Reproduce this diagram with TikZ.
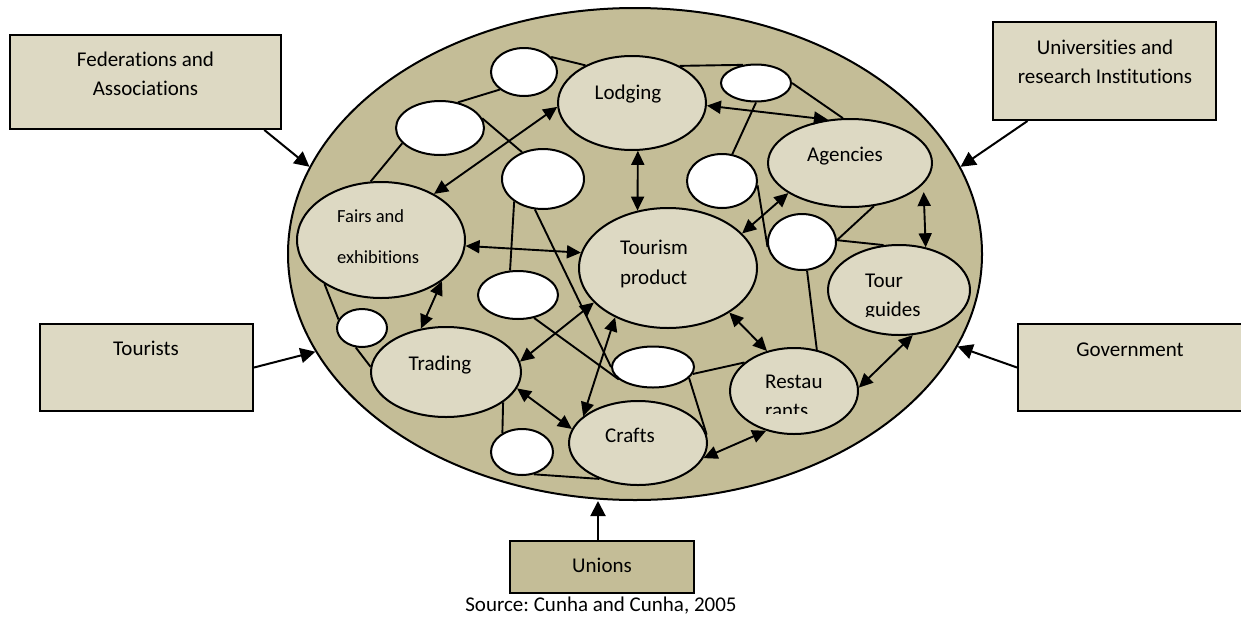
\documentclass[tikz,border=0pt]{standalone}
\usepackage{fontspec}
\setmainfont{Carlito}[RawFeature={-liga}]
\usetikzlibrary{arrows.meta,shapes.geometric}
\definecolor{tandark}{HTML}{C4BD97}
\definecolor{tanlight}{HTML}{DDD9C3}
\newcommand{\txtlines}[2][c]{\begin{tabular}[t]{@{}#1@{}}#2\end{tabular}}
\frenchspacing
\tikzset{dims/.style 2 args={minimum width=#1,minimum height=#2},
  actor/.style={draw,line width=2pt,fill=tanlight,inner sep=0pt},
  bubble/.style={ellipse,draw,line width=2pt,fill=tanlight,inner sep=0pt},
  blank/.style={ellipse,draw,line width=2pt,fill=white,inner sep=0pt},
  tag/.style={font=\fontsize{21}{29}\selectfont,inner sep=0pt},
  link/.style={line width=1.9pt},
  duo/.style={{Triangle[length=14pt,width=13pt]}-{Triangle[length=14pt,width=13pt]},line width=1.9pt},
  inarr/.style={-{Triangle[length=15pt,width=15pt]},line width=2pt}}
\begin{document}
\begin{tikzpicture}[x=1pt,y=-1pt]
\useasboundingbox (0,0) rectangle (1241,616);
% outside actors
\node[actor,dims={271pt}{94pt}] (fedn) at (145.5,82) {};
\node[actor,dims={223pt}{98pt}] (univ) at (1104.5,71) {};
\node[actor,dims={213pt}{87pt}] (tour) at (146.5,367.5) {};
\node[actor,dims={227pt}{87pt}] (govt) at (1131.5,367.5) {};
\node[actor,fill=tandark,dims={184pt}{52pt}] (unio) at (602,567) {};
% the tourism system
\node[ellipse,draw,line width=2pt,fill=tandark,inner sep=0pt,dims={694pt}{492pt}] (big) at (635,254) {};
\node[bubble,dims={148pt}{94pt}] (lodg) at (632,103) {};
\node[bubble,dims={164pt}{88pt}] (agen) at (850,163) {};
\node[bubble,dims={168pt}{116pt}] (fair) at (381,240) {};
\node[bubble,dims={178pt}{120pt}] (prod) at (668,268) {};
\node[bubble,dims={142pt}{90pt}] (guid) at (899,290) {};
\node[bubble,dims={150pt}{90pt}] (trad) at (446,372) {};
\node[bubble,dims={138pt}{84pt}] (craf) at (638,443) {};
\node[bubble,dims={128pt}{86pt}] (rest) at (794,391) {};
% empty ellipses
\node[blank,dims={66pt}{48pt}] (b1) at (524,72) {};
\node[blank,dims={88pt}{54pt}] (b2) at (440,128) {};
\node[blank,dims={82pt}{60pt}] (b3) at (543,179) {};
\node[blank,dims={70pt}{37pt}] (b4) at (756,83) {};
\node[blank,dims={70pt}{54pt}] (b5) at (722,181) {};
\node[blank,dims={68pt}{56pt}] (b6) at (802,242) {};
\node[blank,dims={50pt}{38pt}] (b7) at (362,328) {};
\node[blank,dims={80pt}{48pt}] (b8) at (518,295) {};
\node[blank,dims={82pt}{41pt}] (b9) at (653,367) {};
\node[blank,dims={62pt}{46pt}] (b10) at (522,452) {};
% plain links
\draw[link] (b1.29) -- (lodg.141);
\draw[link] (b2.55) -- (b1.216);
\draw[link] (b2.13) -- (b3.128);
\draw[link] (b2.202) -- (fair.100);
\draw[link] (b3.218) -- (b8.108);
\draw[link] (b3.255) -- (b9.180);
\draw[link] (b8.305) -- (b9.200);
\draw[link] (fair.218) -- (b7.160);
\draw[link] (b7.252) -- (trad.176);
\draw[link] (trad.332) -- (b10.136);
\draw[link] (b10.298) -- (craf.223);
\draw[link] (lodg.38) -- (b4.126);
\draw[link] (b4.0) -- (agen.99);
\draw[link] (b4.270) -- (b5.69);
\draw[link] (b5.353) -- (b6.188);
\draw[link] (b6.280) -- (rest.61);
\draw[link] (agen.299) -- (b6.3);
\draw[link] (b6.3) -- (guid.109);
\draw[link] (b9.350) -- (rest.150);
\draw[link] (b9.343) -- (craf.7);
% two-way flows
\draw[duo] (fair.41) -- (lodg.183);
\draw[duo] (lodg.277) -- (prod.118);
\draw[duo] (fair.356) -- (prod.170);
\draw[duo] (lodg.358) -- (agen.117);
\draw[duo] (prod.25) -- (agen.206);
\draw[duo,shorten <=8pt] (agen.-16) -- (guid.58);
\draw[duo] (fair.326) -- (trad.120);
\draw[duo] (prod.205) -- (trad.8);
\draw[duo] (prod.223) -- (craf.154);
\draw[duo] (trad.347) -- (craf.168);
\draw[duo] (prod.324) -- (rest.124);
\draw[duo] (rest.235) -- (craf.347);
\draw[duo] (rest.3) -- (guid.287);
% influences from outside
\draw[inarr] (fedn.-22) -- (big.165);
\draw[inarr] (univ.213) -- (big.15);
\draw[inarr] (tour.east) -- (big.197);
\draw[inarr] (govt.west) -- (big.344);
\draw[inarr] ([xshift=-4pt]unio.north) -- ([xshift=-4pt]unio.north |- big.south);
% texts
\node[tag,anchor=base] (fedntxt) at (145.5,66) {\txtlines{Federations and\\Associations}};
\node[tag,anchor=base] (univtxt) at (1105,54) {\txtlines{Universities and\\research Institutions}};
\node[tag,anchor=base] (tourtxt) at (146,355) {Tourists};
\node[tag,anchor=base] (govttxt) at (1130,356) {Government};
\node[tag,anchor=base] (uniotxt) at (602,572) {Unions};
\node[tag,anchor=base] (srctxt) at (601,611) {Source: Cunha and Cunha, 2005};
\node[tag,anchor=base] (lodgtxt) at (628,99) {Lodging};
\node[tag,anchor=base] (agentxt) at (845,161) {Agencies};
\node[tag,anchor=base west,font=\fontsize{18.5}{41}\selectfont] (fairtxt) at (337,222) {\txtlines[l]{Fairs and\\exhibitions}};
\node[tag,anchor=base west,font=\fontsize{21}{30}\selectfont] (prodtxt) at (620,254) {\txtlines[l]{Tourism\\product}};
\node[tag,anchor=base] (tradtxt) at (440,370) {Trading};
\node[tag,anchor=base] (craftxt) at (630,442) {Crafts};
\begin{scope}
\clip (820,240) rectangle (980,316);
\node[tag,anchor=base west] (guidtxt) at (865,287) {\txtlines[l]{Tour\\guides}};
\end{scope}
\begin{scope}
\clip (730,340) rectangle (860,413);
\node[tag,anchor=base west] (resttxt) at (765,388) {\txtlines[l]{Restau\\rants}};
\end{scope}
\end{tikzpicture}
\end{document}
